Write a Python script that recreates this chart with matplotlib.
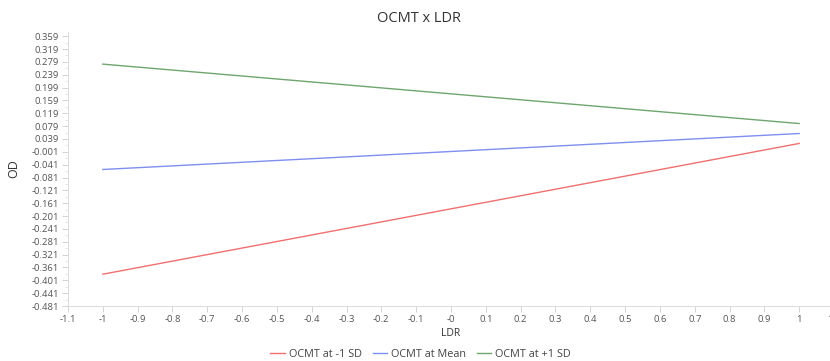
import numpy as np
import matplotlib
matplotlib.use('Agg')
import matplotlib.pyplot as plt

plt.rcParams['font.family'] = ['Open Sans', 'DejaVu Sans']

ldr = [-1, 1]
od_low = [-0.382, 0.025]
od_mean = [-0.056, 0.056]
od_high = [0.272, 0.087]
series_names = ['OCMT at -1 SD', 'OCMT at Mean', 'OCMT at +1 SD']
series_colors = ['#f07070', '#7d8ff0', '#6fa56f']

xtick_vals = [-1.1, -1.0, -0.9, -0.8, -0.7, -0.6, -0.5, -0.4, -0.3, -0.2, -0.1,
              0.0, 0.1, 0.2, 0.3, 0.4, 0.5, 0.6, 0.7, 0.8, 0.9, 1.0, 1.1]
xtick_labels = ['-1.1', '-1', '-0.9', '-0.8', '-0.7', '-0.6', '-0.5', '-0.4', '-0.3',
                '-0.2', '-0.1', '-0', '0.1', '0.2', '0.3', '0.4', '0.5', '0.6', '0.7',
                '0.8', '0.9', '1', '1.1']
ytick_vals = [-0.481, -0.441, -0.401, -0.361, -0.321, -0.281, -0.241, -0.201, -0.161,
              -0.121, -0.081, -0.041, -0.001, 0.039, 0.079, 0.119, 0.159, 0.199,
              0.239, 0.279, 0.319, 0.359]
ytick_labels = ['%.3f' % v for v in ytick_vals]

fig = plt.figure(figsize=(8.3, 3.61), dpi=100)
ax = fig.add_axes([68 / 830, 55 / 361, 766 / 830, 274 / 361])

for vals, name, col in zip([od_low, od_mean, od_high], series_names, series_colors):
    ax.plot(ldr, vals, color=col, lw=1.0, label=name)

ax.set_xlim(-1.1, 1.1)
ax.set_ylim(-0.481, 0.372)
ax.set_xticks(xtick_vals)
ax.set_xticklabels(xtick_labels)
ax.set_yticks(ytick_vals)
ax.set_yticklabels(ytick_labels)
ax.set_yticks([v + 0.02 for v in ytick_vals[:-1]], minor=True)

for s in ['top', 'right']:
    ax.spines[s].set_visible(False)
for s in ['left', 'bottom']:
    ax.spines[s].set_color('#dddddd')
    ax.spines[s].set_linewidth(0.8)

ax.tick_params(axis='both', which='major', labelsize=6.8, labelcolor='#555555',
               color='#cccccc', length=4, width=0.6, pad=2.5)
ax.tick_params(axis='y', which='minor', color='#dddddd', length=2, width=0.5)

ax.set_xlabel('LDR', fontsize=7.5, color='#333333', labelpad=3)
ax.set_ylabel('OD', fontsize=9, color='#333333', labelpad=8)

fig.text(0.505, 0.948, 'OCMT x LDR', ha='center', va='center', fontsize=10.5, color='#333333')

fig.legend(loc='lower center', bbox_to_anchor=(0.507, -0.025), ncol=3, frameon=False,
           fontsize=7.8, handlelength=1.3, handletextpad=0.4, columnspacing=1.0,
           labelcolor='#444444')

fig.savefig('out.png', dpi=100)
